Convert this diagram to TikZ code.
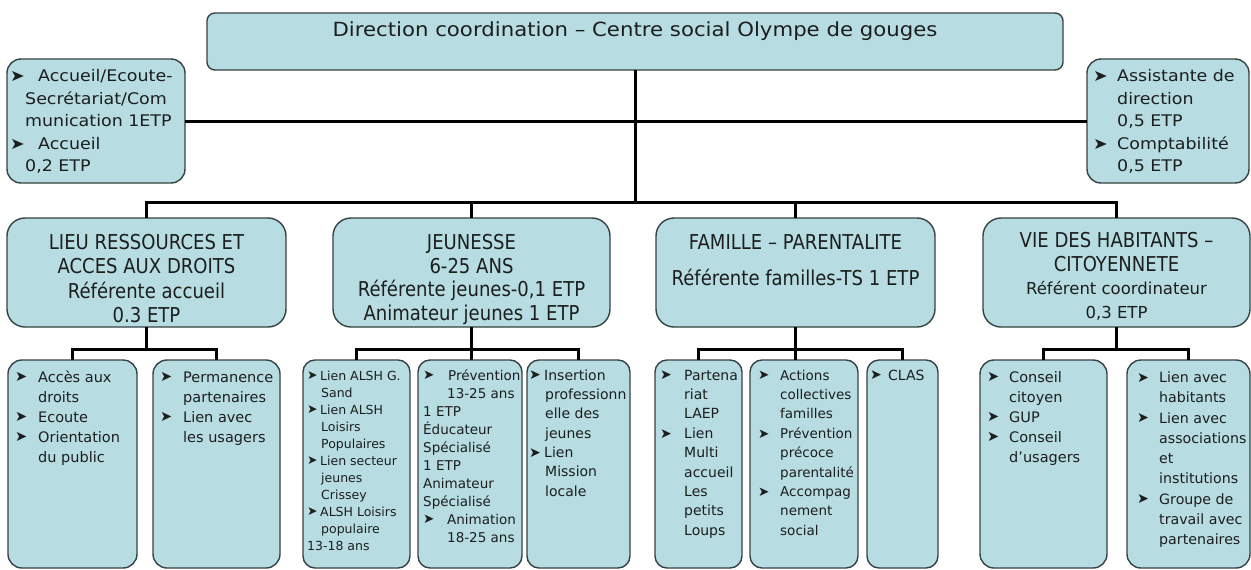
\documentclass[tikz,border=0pt]{standalone}
\usepackage{fontspec}
\usepackage{graphicx}
\setmainfont{DejaVu Sans}
\newfontfamily\tfont{DejaVu Sans}[FakeStretch=0.88]
\newfontfamily\vfont{DejaVu Sans}[FakeStretch=1.09]
\definecolor{boxfill}{RGB}{183,221,226}
\definecolor{boxline}{RGB}{55,66,68}
\definecolor{ink}{RGB}{28,30,30}
\newcommand\blt[1]{\makebox[#1][l]{\raisebox{0.02em}{\scalebox{1.0}{➤}}}}
\newcommand\ind[1]{\hspace*{#1}}
\newcommand\rbox[6]{\node[box=#6,minimum width={#4-#2},minimum height={#5-#3}] (#1) at ({(#2+#4)/2},{(#3+#5)/2}) {};}
\begin{document}
\begin{tikzpicture}[x=1pt,y=-1pt,
  box/.style={draw=boxline,fill=boxfill,line width=1.4pt,rounded corners=#1,inner sep=0pt,outer sep=0pt},
  conn/.style={line width=3pt,draw=black},
  txt/.style={anchor=north west,inner sep=0pt,align=left,text=ink},
  ctxt/.style={anchor=north,inner sep=0pt,align=center,text=ink}]
\useasboundingbox[fill=white] (0,0) rectangle (1251,570);

% boxes
\rbox{top}{207}{13}{1063}{70}{8pt}
\rbox{lft}{7}{59}{185}{183}{14pt}
\rbox{rgt}{1087}{59}{1249}{183}{14pt}
\rbox{c1}{7}{218}{286}{327}{18pt}
\rbox{c2}{333}{218}{610}{327}{18pt}
\rbox{c3}{656}{218}{935}{327}{18pt}
\rbox{c4}{983}{218}{1250}{327}{18pt}
\rbox{s11}{8}{360}{137}{568}{14pt}
\rbox{s12}{153}{360}{280}{568}{14pt}
\rbox{s21}{303}{360}{410}{568}{12pt}
\rbox{s22}{418}{360}{522}{568}{12pt}
\rbox{s23}{527}{360}{630}{568}{12pt}
\rbox{s31}{655}{360}{742}{568}{12pt}
\rbox{s32}{750}{360}{858}{568}{12pt}
\rbox{s33}{867}{360}{938}{568}{12pt}
\rbox{s41}{980}{360}{1107}{568}{14pt}
\rbox{s42}{1127}{360}{1250}{568}{14pt}

% connectors
\coordinate (bus) at (635,202);
\coordinate (h) at (0,349);
\draw[conn] (top.south) -- (bus);
\draw[conn] (lft.east) -- (rgt.west);
\draw[conn] (c1.north) |- (bus) -| (c4.north);
\draw[conn] (c2.north) -- (c2.north |- bus);
\draw[conn] (c3.north) -- (c3.north |- bus);
\draw[conn] (c1.south) -- (c1.south |- h);
\draw[conn] (s11.north) |- (c1.south |- h) -| (s12.north);
\draw[conn] (c2.south) -- (c2.south |- s22.north);
\draw[conn] (s21.north) |- (c2.south |- h) -| (s23.north);
\draw[conn] (c3.south) -- (c3.south |- s32.north);
\draw[conn] (s31.north) |- (c3.south |- h) -| (s33.north);
\draw[conn] (c4.south) -- (c4.south |- h);
\draw[conn] (s41.north) |- (c4.south |- h) -| (s42.north);

% texts
\node[anchor=base,inner sep=0pt,text=ink,font=\vfont\fontsize{19.5}{23}\selectfont] (ttl) at (635,36) {Direction coordination – Centre social Olympe de gouges};

\node[txt,font=\vfont\fontsize{16}{22.5}\selectfont] (tl) at (10,66) {\strut\blt{28pt}Accueil/Ecoute-\\\ind{15pt}Secrétariat/Com\\\ind{15pt}munication 1ETP\\\blt{28pt}Accueil\\\ind{15pt}0,2 ETP};
\node[txt,font=\vfont\fontsize{16}{22.5}\selectfont] (tr) at (1093,66) {\strut\blt{24pt}Assistante de\\\ind{24pt}direction\\\ind{24pt}0,5 ETP\\\blt{24pt}Comptabilité\\\ind{24pt}0,5 ETP};

\node[ctxt,font=\tfont\fontsize{20.5}{24.3}\selectfont] (t1) at (c1.center |- 0,232.4) {\strut LIEU RESSOURCES ET\\ACCES AUX DROITS\\Référente accueil\\0.3 ETP};
\node[ctxt,font=\tfont\fontsize{20.5}{23.5}\selectfont] (t2) at (c2.center |- 0,233) {\strut JEUNESSE\\6-25 ANS\\Référente jeunes-0,1 ETP\\Animateur jeunes 1 ETP};
\node[ctxt,font=\tfont\fontsize{20.5}{24.3}\selectfont] (t3) at (c3.center |- 0,232.4) {\strut FAMILLE – PARENTALITE\\[11.7pt]Référente familles-TS 1 ETP};
\node[ctxt,font=\tfont\fontsize{20.5}{23.5}\selectfont] (t4) at (c4.center |- 0,231) {\strut VIE DES HABITANTS –\\CITOYENNETE\\{\rmfamily\fontsize{16.5}{23.5}\selectfont Référent coordinateur}\\{\rmfamily\fontsize{16.5}{23.5}\selectfont 0,3 ETP}};

\node[txt,font=\fontsize{14.5}{20}\selectfont] (x11) at (15,368) {\strut\blt{23pt}Accès aux\\\ind{23pt}droits\\\blt{23pt}Ecoute\\\blt{23pt}Orientation\\\ind{23pt}du public};
\node[txt,font=\fontsize{14.5}{20}\selectfont] (x12) at (160,368) {\strut\blt{23pt}Permanence\\\ind{23pt}partenaires\\\blt{23pt}Lien avec\\\ind{23pt}les usagers};
\node[txt,font=\fontsize{12.5}{17}\selectfont] (x21) at (307,368) {\strut\blt{13pt}Lien ALSH G.\\\ind{14pt}Sand\\\blt{13pt}Lien ALSH\\\ind{14pt}Loisirs\\\ind{14pt}Populaires\\\blt{13pt}Lien secteur\\\ind{14pt}jeunes\\\ind{14pt}Crissey\\\blt{13pt}ALSH Loisirs\\\ind{14pt}populaire\\13-18 ans};
\node[txt,font=\fontsize{13.5}{18}\selectfont] (x22) at (423,367.3) {\strut\blt{25pt}Prévention\\\ind{24pt}13-25 ans\\1 ETP\\Éducateur\\Spécialisé\\1 ETP\\Animateur\\Spécialisé\\\blt{24pt}Animation\\\ind{24pt}18-25 ans};
\node[txt,font=\fontsize{14}{19.3}\selectfont] (x23) at (529,366.5) {\strut\blt{15pt}Insertion\\\ind{16pt}professionn\\\ind{16pt}elle des\\\ind{16pt}jeunes\\\blt{15pt}Lien\\\ind{16pt}Mission\\\ind{16pt}locale};
\node[txt,font=\fontsize{14}{19.4}\selectfont] (x31) at (660,366.4) {\strut\blt{24pt}Partena\\\ind{24pt}riat\\\ind{24pt}LAEP\\\blt{24pt}Lien\\\ind{24pt}Multi\\\ind{24pt}accueil\\\ind{24pt}Les\\\ind{24pt}petits\\\ind{24pt}Loups};
\node[txt,font=\fontsize{13.5}{19.4}\selectfont] (x32) at (758,366.4) {\strut\blt{22pt}Actions\\\ind{22pt}collectives\\\ind{22pt}familles\\\blt{22pt}Prévention\\\ind{22pt}précoce\\\ind{22pt}parentalité\\\blt{22pt}Accompag\\\ind{22pt}nement\\\ind{22pt}social};
\node[txt,font=\fontsize{14}{19.4}\selectfont] (x33) at (870,366.4) {\strut\blt{18pt}CLAS};
\node[txt,font=\fontsize{14.5}{20}\selectfont] (x41) at (987,368) {\strut\blt{22pt}Conseil\\\ind{22pt}citoyen\\\blt{22pt}GUP\\\blt{22pt}Conseil\\\ind{22pt}d’usagers};
\node[txt,font=\fontsize{14.2}{20.3}\selectfont] (x42) at (1137,368) {\strut\blt{22pt}Lien avec\\\ind{22pt}habitants\\\blt{22pt}Lien avec\\\ind{22pt}associations\\\ind{22pt}et\\\ind{22pt}institutions\\\blt{22pt}Groupe de\\\ind{22pt}travail avec\\\ind{22pt}partenaires};
\end{tikzpicture}
\end{document}
